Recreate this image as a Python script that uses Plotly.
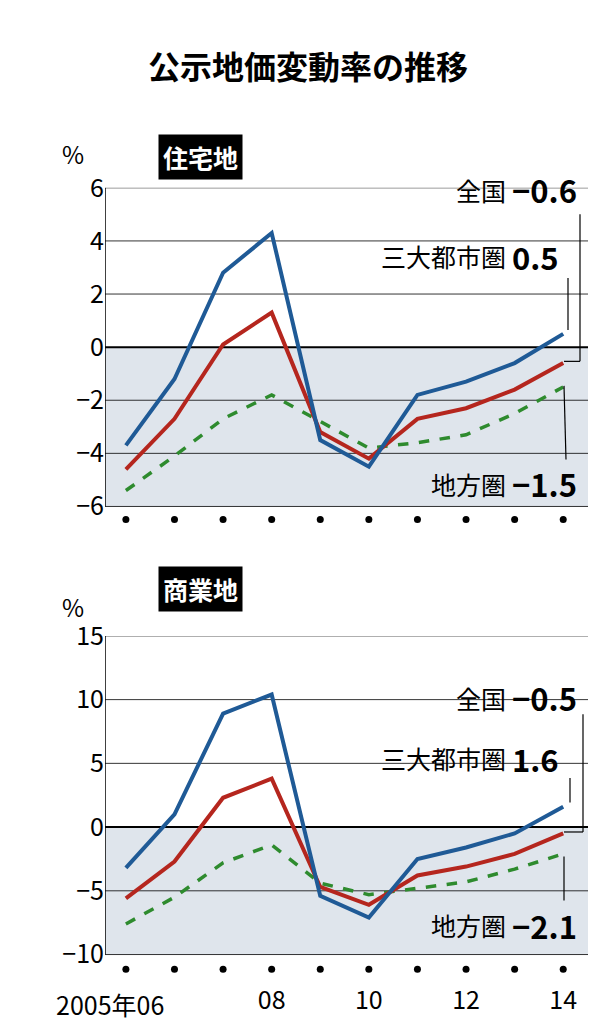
import plotly.graph_objects as go

years = list(range(2005, 2015))
res_nat = [-4.6, -2.7, 0.1, 1.3, -3.2, -4.2, -2.7, -2.3, -1.6, -0.6]
res_metro = [-3.7, -1.2, 2.8, 4.3, -3.5, -4.5, -1.8, -1.3, -0.6, 0.5]
res_local = [-5.4, -4.1, -2.7, -1.8, -2.8, -3.8, -3.6, -3.3, -2.5, -1.5]
com_nat = [-5.6, -2.7, 2.3, 3.8, -4.7, -6.1, -3.8, -3.1, -2.1, -0.5]
com_metro = [-3.2, 1.0, 8.9, 10.4, -5.4, -7.1, -2.5, -1.6, -0.5, 1.6]
com_local = [-7.6, -5.5, -2.8, -1.4, -4.4, -5.3, -4.8, -4.3, -3.3, -2.1]
top_ticks = [-6, -4, -2, 0, 2, 4, 6]
bot_ticks = [-10, -5, 0, 5, 10, 15]
x_ticks = [2008, 2010, 2012, 2014]
x_text = ["08", "10", "12", "14"]

BLUE, RED, GREEN = "#1f5a96", "#b5261e", "#2e8b2e"
FONT = "Noto Sans CJK JP"
W, H = 603, 1024

fig = go.Figure()
xr = [2004.57, 2014.51]
xdom = [97 / W, 580 / W]
# domains include extra room below for the year dots
top_dom = [1 - 510 / H, 1 - 163 / H]
bot_dom = [1 - 970 / H, 1 - 620 / H]
top_rng = [-6 - 12 * 22 / 325, 6]
bot_rng = [-10 - 25 * 25 / 325, 15]

def add_panel(xa, ya, nat, metro, local, ticks, lo, rng):
    fig.add_shape(type="rect", xref=xa, yref=ya, x0=xr[0], x1=xr[1], y0=lo, y1=0,
                  fillcolor="#dfe5ec", line_width=0, layer="below")
    for t in ticks:
        fig.add_shape(type="line", xref=xa, yref=ya, x0=xr[0], x1=xr[1], y0=t, y1=t,
                      line=dict(color="black", width=2 if t == 0 else 0.8), layer="below")
    fig.add_shape(type="line", xref=xa, yref=ya, x0=xr[0], x1=xr[0], y0=lo, y1=ticks[-1],
                  line=dict(color="black", width=1.5))
    fig.add_trace(go.Scatter(x=years, y=local, mode="lines", xaxis=xa, yaxis=ya,
                             line=dict(color=GREEN, width=3.5, dash="dash"), showlegend=False))
    fig.add_trace(go.Scatter(x=years, y=nat, mode="lines", xaxis=xa, yaxis=ya,
                             line=dict(color=RED, width=4), showlegend=False))
    fig.add_trace(go.Scatter(x=years, y=metro, mode="lines", xaxis=xa, yaxis=ya,
                             line=dict(color=BLUE, width=4), showlegend=False))
    fig.add_trace(go.Scatter(x=years, y=[(lo + rng[0]) / 2 + (rng[0] - lo) * 0.1] * len(years),
                             mode="markers", xaxis=xa, yaxis=ya,
                             marker=dict(color="black", size=7), showlegend=False))

add_panel("x", "y", res_nat, res_metro, res_local, top_ticks, -6, top_rng)
add_panel("x2", "y2", com_nat, com_metro, com_local, bot_ticks, -10, bot_rng)

ax = dict(range=xr, showgrid=False, zeroline=False, showline=False, ticks="")
ya = dict(showgrid=False, zeroline=False, showline=False, ticks="",
          tickfont=dict(size=25, family=FONT))
fig.update_layout(
    width=W, height=H, margin=dict(l=0, r=0, t=0, b=0),
    plot_bgcolor="white", paper_bgcolor="white",
    font=dict(family=FONT, color="black"),
    xaxis=dict(domain=xdom, anchor="y", showticklabels=False, **ax),
    xaxis2=dict(domain=xdom, anchor="y2", tickvals=x_ticks, ticktext=x_text,
                tickfont=dict(size=25, family=FONT), ticklabelstandoff=4, **ax),
    yaxis=dict(domain=top_dom, range=top_rng, tickvals=top_ticks, **ya),
    yaxis2=dict(domain=bot_dom, range=bot_rng, tickvals=bot_ticks, **ya),
)

def ann(text, x, y, size=22, anchor="left", bold=False):
    fig.add_annotation(text=f"<b>{text}</b>" if bold else text, x=x / W, y=1 - y / H,
                       xref="paper", yref="paper", showarrow=False, xanchor=anchor,
                       yanchor="middle", font=dict(size=size, family=FONT))

ann("公示地価変動率の推移", 300, 38, size=32, anchor="center", bold=True)
for txt, y in [("住宅地", 108), ("商業地", 572)]:
    fig.add_annotation(text=f"<b>{txt}</b>", x=150 / W, y=1 - y / H, xref="paper", yref="paper",
                       showarrow=False, bgcolor="black", borderpad=4,
                       font=dict(size=25, family=FONT, color="white"))
ann("%", 65, 128, size=24, anchor="center")
ann("%", 65, 590, size=24, anchor="center")
ann("2005年06", 158, 995, size=25, anchor="right")

def label(name, val, y):
    ann(name, 500, y, size=25, anchor="right")
    ann(val, 502, y, size=31, anchor="left", bold=True)

def seg(x0, y0, x1, y1):
    fig.add_shape(type="line", xref="paper", yref="paper", x0=x0 / W, x1=x1 / W,
                  y0=1 - y0 / H, y1=1 - y1 / H, line=dict(color="black", width=1.2))

label("全国", "−0.6", 165)
label("三大都市圏", "0.5", 233)
label("地方圏", "−1.5", 465)
seg(572, 190, 572, 340); seg(572, 340, 556, 340)
seg(560, 255, 560, 308)
seg(558, 440, 556, 365)
label("全国", "−0.5", 683)
label("三大都市圏", "1.6", 745)
label("地方圏", "−2.1", 915)
seg(575, 700, 575, 820); seg(575, 820, 556, 820)
seg(562, 765, 562, 790)
seg(556, 890, 556, 845)

fig.write_html("out.html")
